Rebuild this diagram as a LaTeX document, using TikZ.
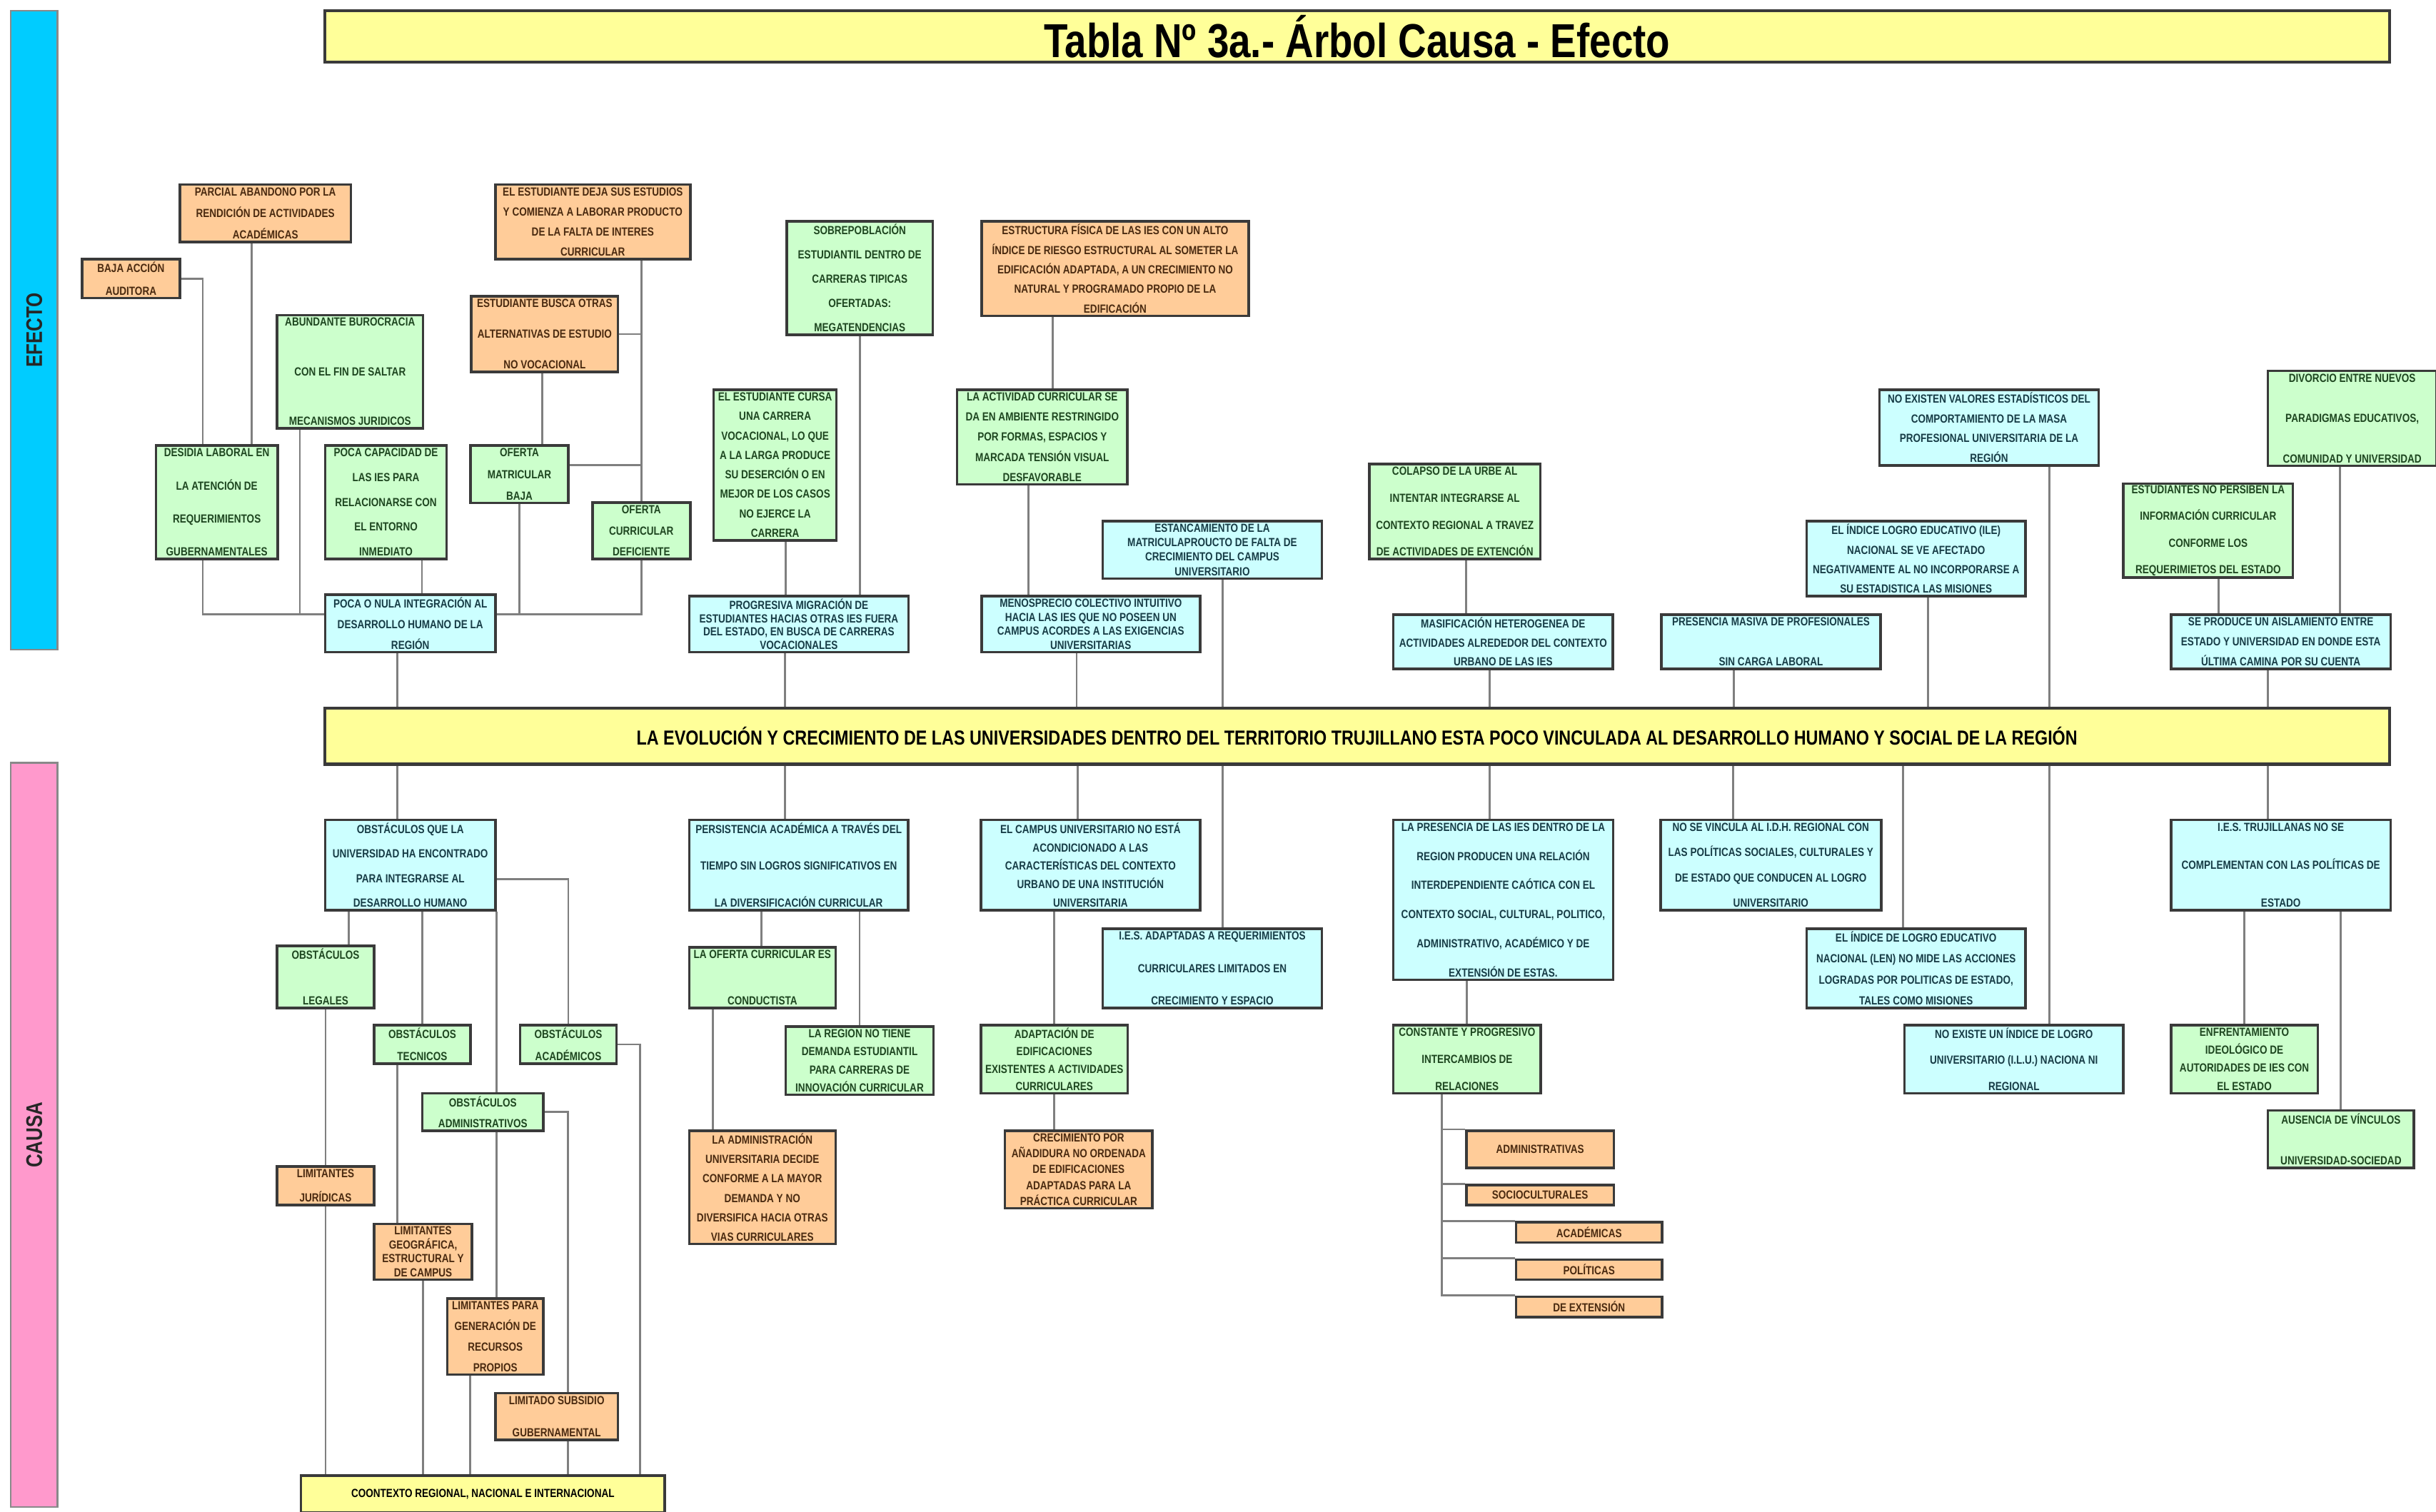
\documentclass[tikz,border=0pt]{standalone}
\usepackage{fontspec}
\setmainfont{Liberation Sans}[FakeStretch=0.82]
\newdimen\upx \upx=0.02176cm
\newcommand{\salto}{\par\vfill}
\definecolor{naranja}{HTML}{FFCC99}
\definecolor{verde}{HTML}{CCFFCC}
\definecolor{celeste}{HTML}{CCFFFF}
\definecolor{amarillo}{HTML}{FFFF99}
\definecolor{azulefecto}{HTML}{00CCFF}
\definecolor{rosacausa}{HTML}{FF99CC}
\definecolor{txtnar}{HTML}{4A2A10}
\definecolor{txtver}{HTML}{1E4620}
\definecolor{txtcel}{HTML}{173C46}
\definecolor{borde}{HTML}{3A3A3A}
\definecolor{conector}{HTML}{7F7F7F}
\tikzset{
  caja/.style 2 args={draw=borde, line width=1pt, inner sep=0pt, anchor=north west,
    minimum width=#1*\upx, minimum height=#2*\upx,
    font=\bfseries\fontsize{4.7}{5}\selectfont,
    execute at begin node={\begin{minipage}[c][\dimexpr#2\upx-2.4pt\relax][s]{\dimexpr#1\upx-1.2pt\relax}\centering},
    execute at end node={\end{minipage}}},
  simple/.style 2 args={draw=borde, line width=1pt, inner sep=0pt, anchor=north west,
    minimum width=#1*\upx, minimum height=#2*\upx, font=\bfseries\fontsize{4.7}{5}\selectfont},
  nar/.style={fill=naranja, text=txtnar},
  ver/.style={fill=verde, text=txtver},
  cel/.style={fill=celeste, text=txtcel},
  ama/.style={fill=amarillo, text=black},
  barra/.style={draw=borde!60, line width=0.6pt, rotate=90, inner sep=0pt,
    minimum height=30*\upx, font=\bfseries\fontsize{9}{10}\selectfont, text=black!85},
  linea/.style={draw=conector, line width=0.8pt}
}
\begin{document}
\begin{tikzpicture}[x=0.02176cm,y=-0.02176cm]
\fill[white] (0,0) rectangle (1568,973);
\useasboundingbox (0,0) rectangle (1568,973);

\node[barra, fill=azulefecto, minimum width=411*\upx] (efecto) at (22,212.5) {EFECTO};
\node[barra, fill=rosacausa, minimum width=479*\upx] (causa) at (22,730.5) {CAUSA};
\node[simple={1329}{33}, ama, line width=1.2pt, font=\bfseries\fontsize{19}{22}\selectfont] (titulo) at (208,6) {Tabla Nº 3a.- Árbol Causa - Efecto};
\node[simple={1329}{36}, ama, line width=1.2pt, font=\bfseries\fontsize{8.1}{9}\selectfont] (banda) at (208,455) {LA EVOLUCIÓN Y CRECIMIENTO DE LAS UNIVERSIDADES DENTRO DEL TERRITORIO TRUJILLANO ESTA POCO VINCULADA AL DESARROLLO HUMANO Y SOCIAL DE LA REGIÓN};

% efecto
\node[nar, caja={63}{25}] (baja) at (52,166) {BAJA ACCIÓN\salto AUDITORA};
\node[nar, caja={110}{37}] (parcial) at (115,118) {PARCIAL ABANDONO POR LA\salto RENDICIÓN DE ACTIVIDADES\salto ACADÉMICAS};
\node[nar, caja={125.5}{48}] (deja) at (318,118) {EL ESTUDIANTE DEJA SUS ESTUDIOS\salto Y COMIENZA A LABORAR PRODUCTO\salto DE LA FALTA DE INTERES\salto CURRICULAR};
\node[ver, caja={94}{73}] (buro) at (177.5,202) {ABUNDANTE BUROCRACIA\salto CON EL FIN DE SALTAR\salto MECANISMOS JURIDICOS};
\node[nar, caja={94.5}{48.6}] (busca) at (302.5,190) {ESTUDIANTE BUSCA OTRAS\salto ALTERNATIVAS DE ESTUDIO\salto NO VOCACIONAL};
\node[ver, caja={78.5}{73}] (desidia) at (99.5,286) {DESIDIA LABORAL EN\salto LA ATENCIÓN DE\salto REQUERIMIENTOS\salto GUBERNAMENTALES};
\node[ver, caja={78}{73}] (capac) at (208.6,286) {POCA CAPACIDAD DE\salto LAS IES PARA\salto RELACIONARSE CON\salto EL ENTORNO\salto INMEDIATO};
\node[ver, caja={63}{37}] (matric) at (302,286) {OFERTA\salto MATRICULAR\salto BAJA};
\node[ver, caja={63}{36.4}] (curric) at (380.5,322.6) {OFERTA\salto CURRICULAR\salto DEFICIENTE};
\node[cel, caja={109.4}{37}] (pocanula) at (208.6,382) {POCA O NULA INTEGRACIÓN AL\salto DESARROLLO HUMANO DE LA\salto REGIÓN};
\node[ver, caja={94}{73}] (sobre) at (505.6,141.6) {SOBREPOBLACIÓN\salto ESTUDIANTIL DENTRO DE\salto CARRERAS TIPICAS\salto OFERTADAS:\salto MEGATENDENCIAS};
\node[ver, caja={79}{97}] (cursa) at (458.6,250) {EL ESTUDIANTE CURSA\salto UNA CARRERA\salto VOCACIONAL, LO QUE\salto A LA LARGA PRODUCE\salto SU DESERCIÓN O EN\salto MEJOR DE LOS CASOS\salto NO EJERCE LA\salto CARRERA};
\node[cel, caja={141.2}{36}] (migra) at (442.8,383) {PROGRESIVA MIGRACIÓN DE\salto ESTUDIANTES HACIAS OTRAS IES FUERA\salto DEL ESTADO, EN BUSCA DE CARRERAS\salto VOCACIONALES};
\node[nar, caja={172}{61}] (estruct) at (631,141.6) {ESTRUCTURA FÍSICA DE LAS IES CON UN ALTO\salto ÍNDICE DE RIESGO ESTRUCTURAL AL SOMETER LA\salto EDIFICACIÓN ADAPTADA, A UN CRECIMIENTO NO\salto NATURAL Y PROGRAMADO PROPIO DE LA\salto EDIFICACIÓN};
\node[ver, caja={109.5}{61}] (activ) at (615.3,250) {LA ACTIVIDAD CURRICULAR SE\salto DA EN AMBIENTE RESTRINGIDO\salto POR FORMAS, ESPACIOS Y\salto MARCADA TENSIÓN VISUAL\salto DESFAVORABLE};
\node[cel, caja={141}{37}] (estanc) at (709,334.6) {ESTANCAMIENTO DE LA\salto MATRICULAPROUCTO DE FALTA DE\salto CRECIMIENTO DEL CAMPUS\salto UNIVERSITARIO};
\node[cel, caja={140.6}{36}] (menos) at (631,383) {MENOSPRECIO COLECTIVO INTUITIVO\salto HACIA LAS IES QUE NO POSEEN UN\salto CAMPUS ACORDES A LAS EXIGENCIAS\salto UNIVERSITARIAS};
\node[ver, caja={110}{61}] (colapso) at (880.6,298) {COLAPSO DE LA URBE AL\salto INTENTAR INTEGRARSE AL\salto CONTEXTO REGIONAL A TRAVEZ\salto DE ACTIVIDADES DE EXTENCIÓN};
\node[cel, caja={141.4}{35}] (masif) at (896,394.8) {MASIFICACIÓN HETEROGENEA DE\salto ACTIVIDADES ALREDEDOR DEL CONTEXTO\salto URBANO DE LAS IES};
\node[cel, caja={141}{35}] (presen) at (1068.6,394.8) {PRESENCIA MASIVA DE PROFESIONALES\salto SIN CARGA LABORAL};
\node[cel, caja={141}{48.7}] (valores) at (1209,250) {NO EXISTEN VALORES ESTADÍSTICOS DEL\salto COMPORTAMIENTO DE LA MASA\salto PROFESIONAL UNIVERSITARIA DE LA\salto REGIÓN};
\node[cel, caja={141}{48.3}] (ile) at (1162,334.7) {EL ÍNDICE LOGRO EDUCATIVO (ILE)\salto NACIONAL SE VE AFECTADO\salto NEGATIVAMENTE AL NO INCORPORARSE A\salto SU ESTADISTICA LAS MISIONES};
\node[ver, caja={109}{60.4}] (persiben) at (1366,310.6) {ESTUDIANTES NO PERSIBEN LA\salto INFORMACIÓN CURRICULAR\salto CONFORME LOS\salto REQUERIMIETOS DEL ESTADO};
\node[ver, caja={108.5}{61}] (divorcio) at (1459,238) {DIVORCIO ENTRE NUEVOS\salto PARADIGMAS EDUCATIVOS,\salto COMUNIDAD Y UNIVERSIDAD};
\node[cel, caja={141.4}{35}] (aislam) at (1396.6,394.8) {SE PRODUCE UN AISLAMIENTO ENTRE\salto ESTADO Y UNIVERSIDAD EN DONDE ESTA\salto ÚLTIMA CAMINA POR SU CUENTA};

% causa
\node[cel, caja={109.4}{58}] (obst) at (208.6,527) {OBSTÁCULOS QUE LA\salto UNIVERSIDAD HA ENCONTRADO\salto PARA INTEGRARSE AL\salto DESARROLLO HUMANO};
\node[ver, caja={62.5}{40}] (legales) at (177.5,608) {OBSTÁCULOS\salto LEGALES};
\node[ver, caja={62}{25}] (tecn) at (240,659) {OBSTÁCULOS\salto TECNICOS};
\node[ver, caja={62}{25}] (acad) at (334,659) {OBSTÁCULOS\salto ACADÉMICOS};
\node[ver, caja={78}{24}] (admin) at (271,703) {OBSTÁCULOS\salto ADMINISTRATIVOS};
\node[nar, caja={62.5}{25}] (jurid) at (177.5,750) {LIMITANTES\salto JURÍDICAS};
\node[nar, caja={63}{36}] (geogr) at (240,787) {LIMITANTES\salto GEOGRÁFICA,\salto ESTRUCTURAL Y\salto DE CAMPUS};
\node[nar, caja={62}{49}] (recur) at (287,835) {LIMITANTES PARA\salto GENERACIÓN DE\salto RECURSOS\salto PROPIOS};
\node[nar, caja={79}{30}] (subsid) at (318,896) {LIMITADO SUBSIDIO\salto GUBERNAMENTAL};
\node[ama, simple={234}{24}] (contexto) at (193,949) {COONTEXTO REGIONAL, NACIONAL E INTERNACIONAL};
\node[cel, caja={141}{58}] (persist) at (442.8,527) {PERSISTENCIA ACADÉMICA A TRAVÉS DEL\salto TIEMPO SIN LOGROS SIGNIFICATIVOS EN\salto LA DIVERSIFICACIÓN CURRICULAR};
\node[ver, caja={94.2}{39}] (conduct) at (442.8,609) {LA OFERTA CURRICULAR ES\salto CONDUCTISTA};
\node[ver, caja={95}{44}] (demanda) at (505,660) {LA REGION NO TIENE\salto DEMANDA ESTUDIANTIL\salto PARA CARRERAS DE\salto INNOVACIÓN CURRICULAR};
\node[nar, caja={94.2}{73}] (adminu) at (442.8,727) {LA ADMINISTRACIÓN\salto UNIVERSITARIA DECIDE\salto CONFORME A LA MAYOR\salto DEMANDA Y NO\salto DIVERSIFICA HACIA OTRAS\salto VIAS CURRICULARES};
\node[cel, caja={141}{58}] (campus) at (630.6,527) {EL CAMPUS UNIVERSITARIO NO ESTÁ\salto ACONDICIONADO A LAS\salto CARACTERÍSTICAS DEL CONTEXTO\salto URBANO DE UNA INSTITUCIÓN\salto UNIVERSITARIA};
\node[cel, caja={141}{51}] (iesadap) at (709,597) {I.E.S. ADAPTADAS A REQUERIMIENTOS\salto CURRICULARES LIMITADOS EN\salto CRECIMIENTO Y ESPACIO};
\node[ver, caja={94.5}{44}] (adapta) at (630.6,659) {ADAPTACIÓN DE\salto EDIFICACIONES\salto EXISTENTES A ACTIVIDADES\salto CURRICULARES};
\node[nar, caja={95}{50}] (creci) at (646,727) {CRECIMIENTO POR\salto AÑADIDURA NO ORDENADA\salto DE EDIFICACIONES\salto ADAPTADAS PARA LA\salto PRÁCTICA CURRICULAR};
\node[cel, caja={141.5}{103}] (presenc) at (896,527) {LA PRESENCIA DE LAS IES DENTRO DE LA\salto REGION PRODUCEN UNA RELACIÓN\salto INTERDEPENDIENTE CAÓTICA CON EL\salto CONTEXTO SOCIAL, CULTURAL, POLITICO,\salto ADMINISTRATIVO, ACADÉMICO Y DE\salto EXTENSIÓN DE ESTAS.};
\node[ver, caja={95}{44}] (constante) at (896,659) {CONSTANTE Y PROGRESIVO\salto INTERCAMBIOS DE\salto RELACIONES};
\node[nar, simple={95}{24}] (r1) at (943,727) {ADMINISTRATIVAS};
\node[nar, simple={95}{13}] (r2) at (943,762) {SOCIOCULTURALES};
\node[nar, simple={94}{13}] (r3) at (975,786) {ACADÉMICAS};
\node[nar, simple={94}{13}] (r4) at (975,810) {POLÍTICAS};
\node[nar, simple={94}{13}] (r5) at (975,834) {DE EXTENSIÓN};
\node[cel, caja={142}{58}] (vincula) at (1068,527) {NO SE VINCULA AL I.D.H. REGIONAL CON\salto LAS POLÍTICAS SOCIALES, CULTURALES Y\salto DE ESTADO QUE CONDUCEN AL LOGRO\salto UNIVERSITARIO};
\node[cel, caja={141}{51}] (len) at (1162,597) {EL ÍNDICE DE LOGRO EDUCATIVO\salto NACIONAL (LEN) NO MIDE LAS ACCIONES\salto LOGRADAS POR POLITICAS DE ESTADO,\salto TALES COMO MISIONES};
\node[cel, caja={141}{44}] (ilu) at (1225,659) {NO EXISTE UN ÍNDICE DE LOGRO\salto UNIVERSITARIO (I.L.U.) NACIONA NI\salto REGIONAL};
\node[cel, caja={141.4}{58}] (trujill) at (1396.6,527) {I.E.S. TRUJILLANAS NO SE\salto COMPLEMENTAN CON LAS POLÍTICAS DE\salto ESTADO};
\node[ver, caja={94.4}{44}] (enfrent) at (1396.6,659) {ENFRENTAMIENTO\salto IDEOLÓGICO DE\salto AUTORIDADES DE IES CON\salto EL ESTADO};
\node[ver, caja={94}{37}] (ausencia) at (1459,714) {AUSENCIA DE VÍNCULOS\salto UNIVERSIDAD-SOCIEDAD};

% conectores efecto
\draw[linea] (baja.east) -| ([xshift=31*\upx]desidia.north west);
\draw[linea] ([xshift=47*\upx]parcial.south west) -- ([xshift=47*\upx]parcial.south west |- desidia.north);
\draw[linea] ([xshift=31*\upx]desidia.south west) |- ([yshift=5.7*\upx]pocanula.west);
\draw[linea] ([xshift=15.5*\upx]buro.south west) |- ([yshift=5.7*\upx]pocanula.west);
\draw[linea] ([xshift=63*\upx]capac.south west) -- ([xshift=63*\upx]capac.south west |- pocanula.north);
\draw[linea] ([xshift=46.5*\upx]busca.south west) -- ([xshift=46.5*\upx]busca.south west |- matric.north);
\draw[linea] (curric.north |- deja.south) -- (curric.north);
\draw[linea] (busca.east) -- (busca.east -| curric.north);
\draw[linea] ([yshift=6*\upx]matric.east) -- ([yshift=6*\upx]matric.east -| curric.north);
\draw[linea] (matric.south) |- ([yshift=5.7*\upx]pocanula.east);
\draw[linea] (curric.south) |- ([yshift=5.7*\upx]pocanula.east);
\draw[linea] ([xshift=47*\upx]pocanula.south west) -- ([xshift=47*\upx]pocanula.south west |- banda.north);
\draw[linea] (sobre.south) -- (sobre.south |- migra.north);
\draw[linea] ([xshift=47*\upx]cursa.south west) -- ([xshift=47*\upx]cursa.south west |- migra.north);
\draw[linea] ([xshift=62.5*\upx]migra.south west) -- ([xshift=62.5*\upx]migra.south west |- banda.north);
\draw[linea] ([xshift=46.5*\upx]estruct.south west) -- ([xshift=46.5*\upx]estruct.south west |- activ.north);
\draw[linea] ([xshift=46.7*\upx]activ.south west) -- ([xshift=46.7*\upx]activ.south west |- menos.north);
\draw[linea] ([xshift=62*\upx]menos.south west) -- ([xshift=62*\upx]menos.south west |- banda.north);
\draw[linea] ([xshift=78*\upx]estanc.south west) -- ([xshift=78*\upx]estanc.south west |- banda.north);
\draw[linea] ([xshift=63*\upx]colapso.south west) -- ([xshift=63*\upx]colapso.south west |- masif.north);
\draw[linea] ([xshift=63*\upx]masif.south west) -- ([xshift=63*\upx]masif.south west |- banda.north);
\draw[linea] ([xshift=47.4*\upx]presen.south west) -- ([xshift=47.4*\upx]presen.south west |- banda.north);
\draw[linea] ([xshift=79*\upx]ile.south west) -- ([xshift=79*\upx]ile.south west |- banda.north);
\draw[linea] ([xshift=110*\upx]valores.south west) -- ([xshift=110*\upx]valores.south west |- banda.north);
\draw[linea] ([xshift=62*\upx]persiben.south west) -- ([xshift=62*\upx]persiben.south west |- aislam.north);
\draw[linea] ([xshift=47*\upx]divorcio.south west) -- ([xshift=47*\upx]divorcio.south west |- aislam.north);
\draw[linea] ([xshift=63*\upx]aislam.south west) -- ([xshift=63*\upx]aislam.south west |- banda.north);

% conectores causa
\draw[linea] ([xshift=47*\upx]obst.north west) -- ([xshift=47*\upx]obst.north west |- banda.south);
\draw[linea] ([xshift=16*\upx]obst.south west) -- ([xshift=16*\upx]obst.south west |- legales.north);
\draw[linea] (tecn.north |- obst.south) -- (tecn.north);
\draw[linea] (obst.south east) -- (obst.south east |- admin.north);
\draw[linea] ([yshift=-9*\upx]obst.east) -| (acad.north);
\draw[linea] (legales.south) -- (jurid.north);
\draw[linea] ([xshift=15.6*\upx]tecn.south west) -- ([xshift=15.6*\upx]tecn.south west |- geogr.north);
\draw[linea] (acad.east) -| ([xshift=219*\upx]contexto.north west);
\draw[linea] (obst.south east |- admin.south) -- (obst.south east |- recur.north);
\draw[linea] (admin.east) -| ([xshift=47.5*\upx]subsid.north west);
\draw[linea] ([xshift=47.5*\upx]subsid.south west) -- ([xshift=47.5*\upx]subsid.south west |- contexto.north);
\draw[linea] (jurid.south) -- (jurid.south |- contexto.north);
\draw[linea] (geogr.south) -- (geogr.south |- contexto.north);
\draw[linea] ([xshift=15.5*\upx]recur.south west) -- ([xshift=15.5*\upx]recur.south west |- contexto.north);
\draw[linea] ([xshift=62.6*\upx]persist.north west) -- ([xshift=62.6*\upx]persist.north west |- banda.south);
\draw[linea] ([xshift=47.2*\upx]persist.south west) -- ([xshift=47.2*\upx]persist.south west |- conduct.north);
\draw[linea] (demanda.north |- persist.south) -- (demanda.north);
\draw[linea] ([xshift=16.2*\upx]conduct.south west) -- ([xshift=16.2*\upx]conduct.south west |- adminu.north);
\draw[linea] ([xshift=63*\upx]campus.north west) -- ([xshift=63*\upx]campus.north west |- banda.south);
\draw[linea] (adapta.north |- campus.south) -- (adapta.north);
\draw[linea] (adapta.south) -- (adapta.south |- creci.north);
\draw[linea] ([xshift=78*\upx]iesadap.north west) -- ([xshift=78*\upx]iesadap.north west |- banda.south);
\draw[linea] ([xshift=63*\upx]presenc.north west) -- ([xshift=63*\upx]presenc.north west |- banda.south);
\draw[linea] (constante.north |- presenc.south) -- (constante.north);
\draw[linea] ([xshift=32*\upx]constante.south west) |- (r5.north west);
\foreach \r in {r1,r2,r3,r4}
  \draw[linea] ([xshift=32*\upx]constante.south west |- \r.north west) -- (\r.north west);
\draw[linea] ([xshift=47.5*\upx]vincula.north west) -- ([xshift=47.5*\upx]vincula.north west |- banda.south);
\draw[linea] ([xshift=63*\upx]len.north west) -- ([xshift=63*\upx]len.north west |- banda.south);
\draw[linea] ([xshift=94*\upx]ilu.north west) -- ([xshift=94*\upx]ilu.north west |- banda.south);
\draw[linea] ([xshift=63*\upx]trujill.north west) -- ([xshift=63*\upx]trujill.north west |- banda.south);
\draw[linea] (enfrent.north |- trujill.south) -- (enfrent.north);
\draw[linea] (ausencia.north |- trujill.south) -- (ausencia.north);
\end{tikzpicture}
\end{document}
